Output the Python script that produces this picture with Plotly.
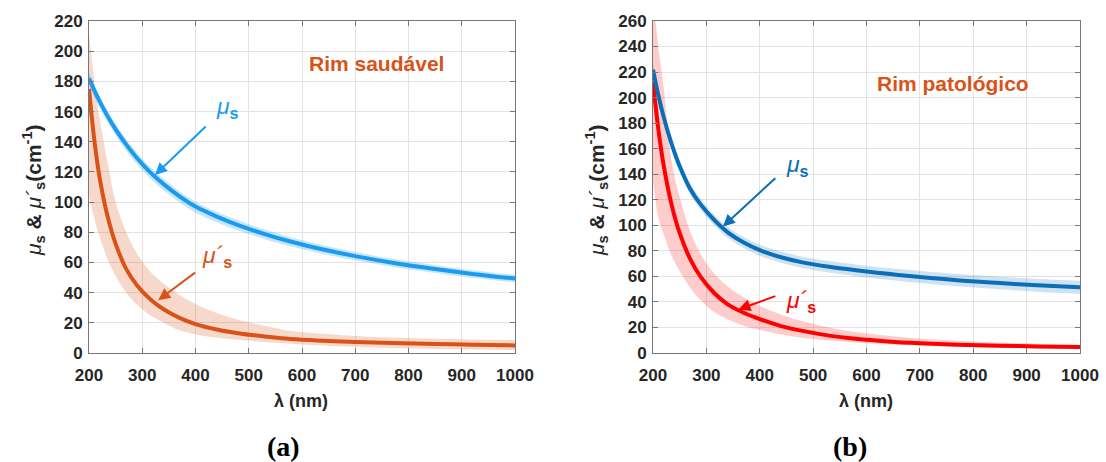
import plotly.graph_objects as go

# ---------------- data ----------------
wl = [200, 210, 220, 235, 250, 270, 290, 315, 340, 370, 400, 440, 480, 530, 580, 640, 700, 770, 850, 920, 1000]

# Panel (a) - Rim saudável
mus_a    = [182, 174, 166.7, 156.9, 148.2, 138.1, 129.2, 119.7, 111.9, 103.8, 97.0, 90.4, 84.8, 78.8, 73.7, 68.6, 64.2, 59.8, 55.6, 52.4, 49.3]
mus_a_up = [185.5, 177.5, 170.2, 160.4, 151.7, 141.6, 132.7, 123.2, 115.4, 107.2, 100.3, 93.6, 87.9, 81.8, 76.6, 71.4, 66.9, 62.4, 58.2, 54.9, 51.8]
mus_a_lo = [178, 170, 162.7, 152.9, 144.2, 134.1, 125.2, 115.7, 107.9, 99.8, 93.0, 86.6, 81.2, 75.4, 70.5, 65.6, 61.4, 57.1, 53.0, 49.9, 46.8]
musp_a    = [175, 141.2, 116.1, 90.4, 72.3, 55.6, 44.9, 35.6, 29.0, 23.3, 19.2, 15.6, 13.1, 10.9, 9.24, 8.13, 7.3, 6.57, 5.95, 5.52, 5.05]
musp_a_up = [212, 180, 155, 126, 100, 80, 66, 54, 46, 38.5, 32.5, 26.5, 22, 18, 14.5, 12.7, 11.3, 10.2, 9.4, 9.0, 8.6]
musp_a_lo = [104, 89, 77, 62, 51, 40, 32, 25, 20, 15, 12.3, 10.2, 8.7, 7.3, 6.2, 5.0, 4.1, 3.3, 2.7, 2.3, 2.0]

# Panel (b) - Rim patológico
mus_b    = [222, 201.9, 184.8, 163.6, 146.3, 128.3, 116, 104, 94.5, 86.5, 80.5, 75, 71, 67.5, 64.8, 62, 59.5, 57, 54.8, 53, 51.4]
mus_b_up = [226, 206, 189, 168, 150.5, 132.5, 120.2, 108.2, 98.8, 90.8, 84.8, 79.4, 75.4, 72, 69.4, 66.6, 64.2, 61.8, 59.7, 58, 56.6]
mus_b_lo = [218, 198, 181, 159.5, 142, 124, 111.8, 99.8, 90.2, 82.2, 76.2, 70.6, 66.6, 63, 60.2, 57.4, 54.8, 52.2, 49.9, 48, 46.2]
musp_b    = [212, 175.3, 146.9, 115.8, 93.8, 73.3, 59.2, 46.8, 38.1, 31.5, 26.5, 21.1, 17.3, 13.6, 11.1, 9.0, 7.6, 6.5, 5.7, 5.15, 4.7]
musp_b_up = [280, 240, 208, 150, 122, 95, 77, 62, 52, 43.5, 37, 30, 25, 20, 16.5, 13.5, 11.3, 9.5, 8.0, 7.1, 6.4]
musp_b_lo = [135, 106, 93, 76, 64, 51, 41, 32, 26.5, 21.3, 18, 14.5, 12, 9.8, 8.2, 6.8, 5.8, 4.9, 4.2, 3.7, 3.3]

xticks = [200, 300, 400, 500, 600, 700, 800, 900, 1000]
yticks_a = list(range(0, 221, 20))
yticks_b = list(range(0, 261, 20))

# ---------------- colours ----------------
C_BLUE_A = "#1a9bf0"
C_ORANGE = "#d95319"
C_BLUE_B = "#0a6fb8"
C_RED = "#ff0000"

fig = go.Figure()

def band(x, lo, up, color, xa, ya):
    fig.add_trace(go.Scatter(x=x, y=lo, mode="lines", line=dict(width=0, shape="spline"),
                             xaxis=xa, yaxis=ya, showlegend=False, hoverinfo="skip"))
    fig.add_trace(go.Scatter(x=x, y=up, mode="lines", line=dict(width=0, shape="spline"),
                             fill="tonexty", fillcolor=color,
                             xaxis=xa, yaxis=ya, showlegend=False, hoverinfo="skip"))

def curve(x, y, color, xa, ya):
    fig.add_trace(go.Scatter(x=x, y=y, mode="lines", line=dict(width=4, color=color, shape="spline"),
                             xaxis=xa, yaxis=ya, showlegend=False))

band(wl, musp_a_lo, musp_a_up, "rgba(217,83,25,0.22)", "x", "y")
band(wl, mus_a_lo, mus_a_up, "rgba(26,155,240,0.25)", "x", "y")
curve(wl, musp_a, C_ORANGE, "x", "y")
curve(wl, mus_a, C_BLUE_A, "x", "y")

band(wl, musp_b_lo, musp_b_up, "rgba(255,0,0,0.2)", "x2", "y2")
band(wl, mus_b_lo, mus_b_up, "rgba(10,111,184,0.2)", "x2", "y2")
curve(wl, musp_b, C_RED, "x2", "y2")
curve(wl, mus_b, C_BLUE_B, "x2", "y2")

FONT = "Liberation Sans, Arial, sans-serif"
TXT = "#262626"
TICKFONT = dict(family=FONT, size=17, color=TXT)
AXLINE = "#777777"
GRID = "#e3e3e3"

def xaxis_cfg(domain, anchor):
    return dict(domain=domain, anchor=anchor, range=[200, 1000], tickvals=xticks,
                ticktext=[f"<b>{v}</b>" for v in xticks], tickfont=TICKFONT,
                showline=True, linecolor=AXLINE, linewidth=1, mirror="ticks",
                ticks="inside", ticklen=5, tickcolor=AXLINE, automargin=False,
                ticklabelstandoff=7,
                showgrid=True, gridcolor=GRID, zeroline=False)

def yaxis_cfg(domain, anchor, rng, ticks):
    return dict(domain=domain, anchor=anchor, range=rng, tickvals=ticks,
                ticktext=[f"<b>{v}</b>" for v in ticks], tickfont=TICKFONT,
                showline=True, linecolor=AXLINE, linewidth=1, mirror="ticks",
                ticks="inside", ticklen=5, tickcolor=AXLINE, automargin=False,
                ticklabelstandoff=2,
                showgrid=True, gridcolor=GRID, zeroline=False)

fig.update_layout(
    width=1106, height=462,
    margin=dict(l=0, r=0, t=0, b=0, autoexpand=False),
    paper_bgcolor="white", plot_bgcolor="white",
    xaxis=xaxis_cfg([89 / 1106, 515 / 1106], "y"),
    yaxis=yaxis_cfg([1 - 353 / 462, 1 - 21 / 462], "x", [0, 220], yticks_a),
    xaxis2=xaxis_cfg([653 / 1106, 1080 / 1106], "y2"),
    yaxis2=yaxis_cfg([1 - 353 / 462, 1 - 21 / 462], "x2", [0, 260], yticks_b),
)

def px(x, y):
    return dict(x=x / 1106, y=1 - y / 462, xref="paper", yref="paper",
                xanchor="center", yanchor="middle")

YTITLE = "<i>μ</i><sub><b>s</b></sub><b> & </b><i>μ´</i><sub><b>s</b></sub><b>(cm<sup>-1</sup>)</b>"
ann = []
LBL = dict(family=FONT, size=23)
# axis titles
ann.append(dict(**px(301, 401), text="<b>λ (nm)</b>", showarrow=False, font=dict(family=FONT, size=18, color=TXT)))
ann.append(dict(**px(866, 401), text="<b>λ (nm)</b>", showarrow=False, font=dict(family=FONT, size=18, color=TXT)))
ann.append(dict(**px(34, 190), text=YTITLE, textangle=-90, showarrow=False, font=dict(family=FONT, size=21, color=TXT)))
ann.append(dict(**px(597, 190), text=YTITLE, textangle=-90, showarrow=False, font=dict(family=FONT, size=21, color=TXT)))
# panel a
ann.append(dict(x=740, y=192, xref="x", yref="y", text="<b>Rim saudável</b>", showarrow=False,
                font=dict(family=FONT, size=21, color=C_ORANGE)))
ann.append(dict(x=461, y=163, xref="x", yref="y", text="<i>μ</i><sub><b>s</b></sub>", showarrow=False,
                font=dict(LBL, color=C_BLUE_A)))
ann.append(dict(x=324, y=118, ax=422, ay=151, xref="x", yref="y", axref="x", ayref="y", text="",
                showarrow=True, arrowhead=2, arrowsize=1.2, arrowwidth=2, arrowcolor=C_BLUE_A))
ann.append(dict(x=440, y=64, xref="x", yref="y", text="<i>μ´</i><sub><b>s</b></sub>", showarrow=False,
                font=dict(LBL, color=C_ORANGE)))
ann.append(dict(x=330, y=35, ax=402, ay=54, xref="x", yref="y", axref="x", ayref="y", text="",
                showarrow=True, arrowhead=2, arrowsize=1.2, arrowwidth=2, arrowcolor=C_ORANGE))
# panel b
ann.append(dict(x=762, y=211, xref="x2", yref="y2", text="<b>Rim patológico</b>", showarrow=False,
                font=dict(family=FONT, size=21, color=C_ORANGE)))
ann.append(dict(x=471, y=147, xref="x2", yref="y2", text="<i>μ</i><sub><b>s</b></sub>", showarrow=False,
                font=dict(LBL, color=C_BLUE_B)))
ann.append(dict(x=331, y=99, ax=432, ay=138, xref="x2", yref="y2", axref="x2", ayref="y2", text="",
                showarrow=True, arrowhead=2, arrowsize=1.2, arrowwidth=2, arrowcolor=C_BLUE_B))
ann.append(dict(x=478, y=40, xref="x2", yref="y2", text="<i>μ´</i><sub><b>s</b></sub>", showarrow=False,
                font=dict(LBL, color=C_RED)))
ann.append(dict(x=360, y=34, ax=432, ay=45, xref="x2", yref="y2", axref="x2", ayref="y2", text="",
                showarrow=True, arrowhead=2, arrowsize=1.2, arrowwidth=2, arrowcolor=C_RED))
# panel letters
SERIF = dict(family="Liberation Serif, Times New Roman, serif", size=28, color="black")
ann.append(dict(**px(283, 446), text="<b>(a)</b>", showarrow=False, font=SERIF))
ann.append(dict(**px(850, 446), text="<b>(b)</b>", showarrow=False, font=SERIF))
fig.update_layout(annotations=ann)

fig.write_html("out.html")
